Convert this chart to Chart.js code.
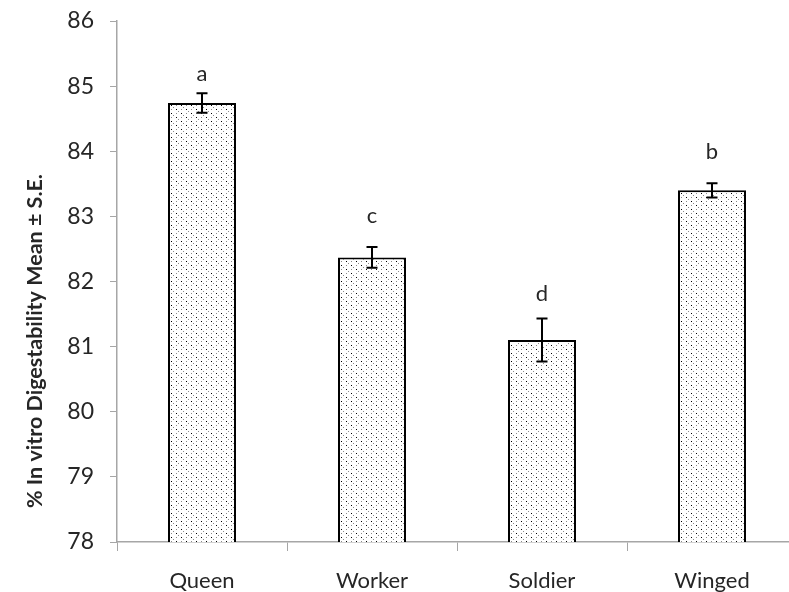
<!DOCTYPE html>
<html>
<head>
<meta charset="utf-8">
<script src="https://cdn.jsdelivr.net/npm/chart.js@4"></script>
<style>
  html, body { margin: 0; padding: 0; background: #fff; overflow: hidden; }
  #wrap { width: 800px; height: 592px; }
</style>
</head>
<body>
<div id="wrap"><canvas id="chart" width="800" height="592"></canvas></div>
<script>
(function () {
  'use strict';

  var castes = ['Queen', 'Worker', 'Soldier', 'Winged'];
  var means = [84.74, 82.37, 81.10, 83.40];
  var stdErr = [0.15, 0.16, 0.33, 0.11];
  var letters = ['a', 'c', 'd', 'b'];
  var letterAt = [85.19, 83.0, 81.81, 83.99];
  var yTicks = [78, 79, 80, 81, 82, 83, 84, 85, 86];

  var textColor = '#262626';
  var axisColor = '#a6a6a6';
  var font = 'Lato, "Open Sans", sans-serif';

  var ctx = document.getElementById('chart').getContext('2d');

  function dotPattern() {
    var c = document.createElement('canvas');
    c.width = 10;
    c.height = 8;
    var g = c.getContext('2d');
    g.fillStyle = '#fff';
    g.fillRect(0, 0, 10, 8);
    g.fillStyle = '#8c8c8c';
    [[1, 1], [6, 1], [1, 5], [6, 5], [3, 3], [8, 7]].forEach(function (p) {
      g.fillRect(p[0], p[1], 1, 1);
    });
    g.fillStyle = '#000';
    g.fillRect(1, 1, 1, 1);
    g.fillRect(6, 5, 1, 1);
    return ctx.createPattern(c, 'repeat');
  }

  var extras = {
    id: 'extras',
    afterDatasetsDraw: function (chart) {
      var y = chart.scales.y;
      var bars = chart.getDatasetMeta(0).data;
      var c = chart.ctx;
      c.save();
      c.strokeStyle = '#000';
      c.lineWidth = 2;
      bars.forEach(function (bar, i) {
        var top = y.getPixelForValue(means[i] + stdErr[i]);
        var bot = y.getPixelForValue(means[i] - stdErr[i]);
        c.beginPath();
        c.moveTo(bar.x, top);
        c.lineTo(bar.x, bot);
        c.moveTo(bar.x - 5.5, top);
        c.lineTo(bar.x + 5.5, top);
        c.moveTo(bar.x - 5.5, bot);
        c.lineTo(bar.x + 5.5, bot);
        c.stroke();
      });
      c.fillStyle = textColor;
      c.font = '22px ' + font;
      c.textAlign = 'center';
      c.textBaseline = 'middle';
      bars.forEach(function (bar, i) {
        c.fillText(letters[i], bar.x, y.getPixelForValue(letterAt[i]));
      });
      c.translate(35, 341);
      c.rotate(-Math.PI / 2);
      c.font = 'bold 21.5px ' + font;
      c.fillText('% In vitro Digestability Mean \u00b1 S.E.', 0, 0);
      c.restore();
    },
  };

  new Chart(ctx, {
    type: 'bar',
    data: {
      labels: castes,
      datasets: [
        {
          data: means,
          backgroundColor: dotPattern(),
          borderColor: '#000',
          borderWidth: 2,
          borderSkipped: 'bottom',
          barPercentage: 0.4,
          categoryPercentage: 1,
        },
      ],
    },
    options: {
      responsive: false,
      animation: false,
      layout: { padding: { top: 21, right: 3, left: 0, bottom: 0 } },
      plugins: { legend: { display: false }, tooltip: { enabled: false } },
      scales: {
        x: {
          afterFit: function (s) {
            s.height = 50;
            s.paddingLeft = 0;
            s.paddingRight = 0;
          },
          grid: { drawOnChartArea: false, offset: true, tickLength: 9, color: axisColor, lineWidth: 1 },
          border: { color: axisColor, width: 1.5 },
          ticks: { color: textColor, font: { family: font, size: 22 }, padding: 17 },
        },
        y: {
          min: 78,
          max: 86,
          afterFit: function (s) {
            s.width = 117;
            s.paddingTop = 0;
            s.paddingBottom = 0;
          },
          afterBuildTicks: function (s) {
            s.ticks = yTicks.map(function (v) { return { value: v }; });
          },
          grid: { drawOnChartArea: false, tickLength: 7, color: axisColor, lineWidth: 1 },
          border: { color: axisColor, width: 1.5 },
          ticks: { color: textColor, font: { family: font, size: 23 }, padding: 16 },
        },
      },
    },
    plugins: [extras],
  });
})();
</script>
</body>
</html>
